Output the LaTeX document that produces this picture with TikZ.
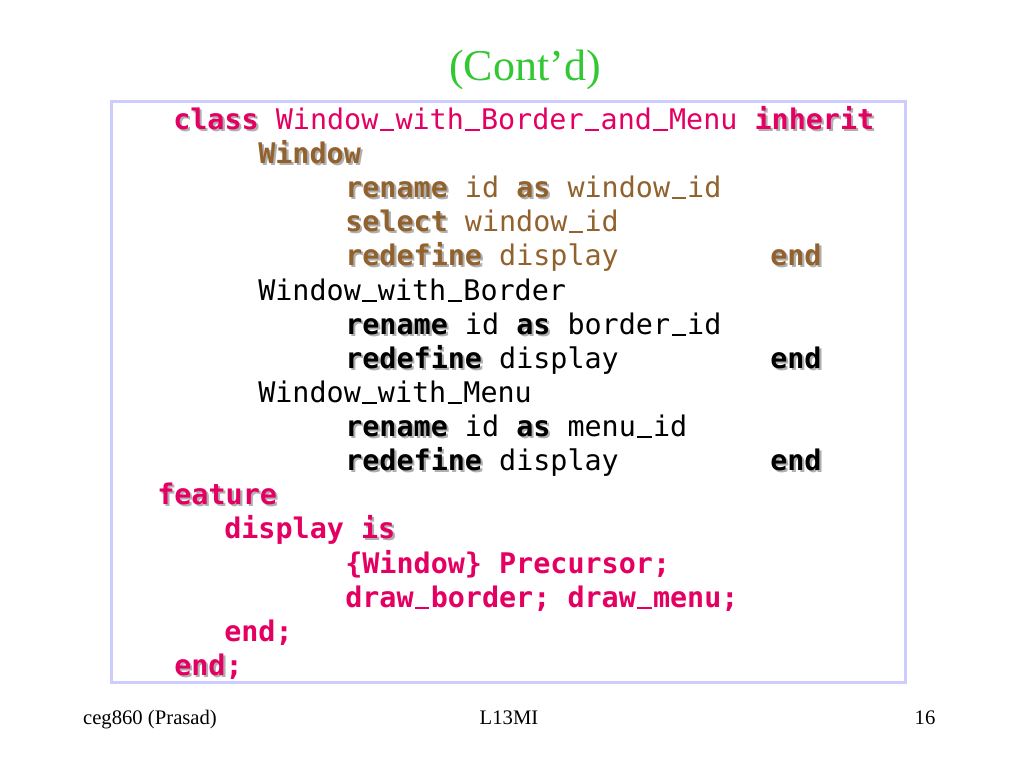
\documentclass[tikz,border=0pt]{standalone}
\usepackage{fontspec}
\usepackage{xcolor}
\setmainfont{Liberation Serif}
\newfontfamily\codefont{DejaVu Sans Mono}
\usetikzlibrary{positioning}

\definecolor{titlegreen}{RGB}{51,200,51}
\definecolor{codepink}{RGB}{228,0,98}
\definecolor{codebrown}{RGB}{145,98,45}
\definecolor{kwshadow}{RGB}{175,175,175}
\definecolor{boxline}{RGB}{204,204,255}

% bold keyword with its grey shadow
\newcommand{\kw}[2]{\makebox[0pt][l]{\hspace{1.6pt}\raisebox{-1.6pt}{\textcolor{kwshadow}{\bfseries #2}}}\textcolor{#1}{\bfseries #2}}
% underscore of one character cell
\newcommand{\us}{\makebox[0.602em][c]{\rule[-0.06em]{0.5em}{0.07em}}}

\begin{document}
\begin{tikzpicture}[x=0.75pt, y=-0.75pt,
    code/.style = {anchor=base west, inner sep=0pt, font=\codefont\fontsize{21.3}{25}\selectfont},
    foot/.style = {anchor=base, inner sep=0pt, font=\fontsize{15.5}{18}\selectfont}]
    \useasboundingbox (0,0) rectangle (1024,768);

    \node[anchor=base, inner sep=0pt, font=\fontsize{33}{38}\selectfont, text=titlegreen] (title) at (525,80) {(Cont’d)};
    \draw[boxline, line width=2.25pt] (111,101) rectangle (905,682);

    \node[code, text=codepink] (l1) at (173,129) {\kw{codepink}{class} Window\us with\us Border\us and\us Menu \kw{codepink}{inherit}};
    \node[code] (l2) at (258,163) {\kw{codebrown}{Window}};
    \node[code, text=codebrown] (l3) at (345,197) {\kw{codebrown}{rename} id \kw{codebrown}{as} window\us id};
    \node[code, text=codebrown] (l4) at (345,231) {\kw{codebrown}{select} window\us id};
    \node[code, text=codebrown] (l5) at (345,265) {\kw{codebrown}{redefine} display};
    \node[code] (e5) at (770,265) {\kw{codebrown}{end}};

    \node[code] (l6) at (258,300) {Window\us with\us Border};
    \node[code] (l7) at (345,334) {\kw{black}{rename} id \kw{black}{as} border\us id};
    \node[code] (l8) at (345,368) {\kw{black}{redefine} display};
    \node[code] (e8) at (770,368) {\kw{black}{end}};
    \node[code] (l9) at (258,402) {Window\us with\us Menu};
    \node[code] (l10) at (345,436) {\kw{black}{rename} id \kw{black}{as} menu\us id};
    \node[code] (l11) at (345,470) {\kw{black}{redefine} display};
    \node[code] (e11) at (770,470) {\kw{black}{end}};

    \node[code] (l12) at (157,504) {\kw{codepink}{feature}};
    \node[code, text=codepink] (l13) at (224,538) {\bfseries display \kw{codepink}{is}};
    \node[code, text=codepink] (l14) at (345,573) {\bfseries \{Window\} Precursor;};
    \node[code, text=codepink] (l15) at (345,607) {\bfseries draw\us border; draw\us menu;};
    \node[code, text=codepink] (l16) at (224,641) {\bfseries end;};
    \node[code, text=codepink] (l17) at (174,675) {\kw{codepink}{end}\bfseries;};

    \node[foot] (author) at (150,724) {ceg860 (Prasad)};
    \node[foot] (lecture) at (509,724) {L13MI};
    \node[foot] (page) at (925,724) {16};
\end{tikzpicture}
\end{document}
